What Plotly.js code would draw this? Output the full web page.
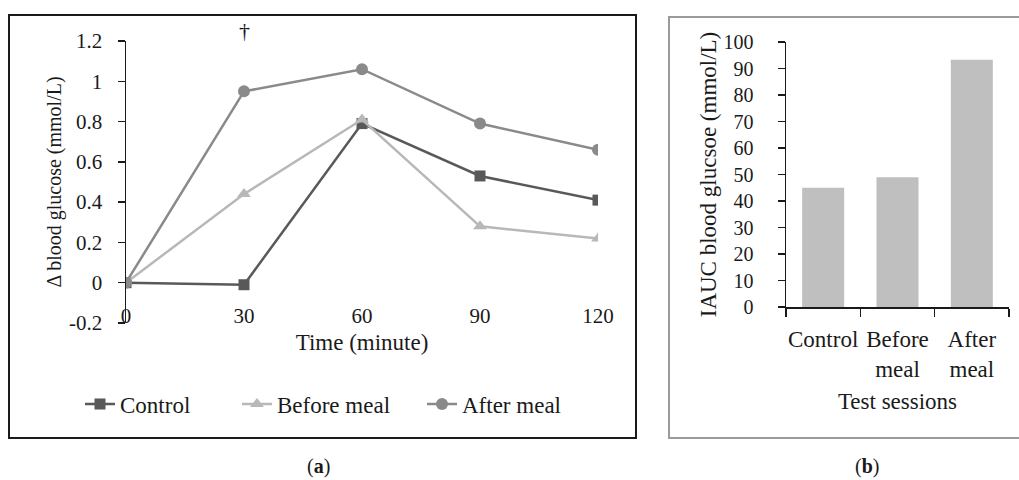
<!DOCTYPE html>
<html>
<head>
<meta charset="utf-8">
<script src="https://cdn.plot.ly/plotly-3.0.1.min.js"></script>
<style>html,body{margin:0;padding:0;background:#fff;}#chart{width:1019px;height:480px;}</style>
</head>
<body>
<div id="chart"></div>
<script>
// ---- data (panel a) ----
const timePoints = [0, 30, 60, 90, 120];
const controlDelta = [0, -0.01, 0.79, 0.53, 0.41];
const beforeMealDelta = [0, 0.44, 0.81, 0.28, 0.22];
const afterMealDelta = [0, 0.95, 1.06, 0.79, 0.66];
const yTickVals = [-0.2, 0, 0.2, 0.4, 0.6, 0.8, 1, 1.2];
const yTickText = ['-0.2', '0', '0.2', '0.4', '0.6', '0.8', '1', '1.2'];
const xTickVals = [0, 30, 60, 90, 120];
// ---- data (panel b) ----
const sessions = ['Control', 'Before<br>meal', 'After<br>meal'];
const iaucValues = [45, 49, 93.3];

const FONT = 'Liberation Serif, Times New Roman, serif';
const INK = '#1a1a1a';
const TICK = 21, TITLE = 23;

const traces = [
  {x: timePoints, y: controlDelta, name: 'Control', type: 'scatter', mode: 'lines+markers',
   line: {color: '#595959', width: 2.5}, marker: {symbol: 'square', size: 11, color: '#595959'},
   legendwidth: 112, xaxis: 'x', yaxis: 'y'},
  {x: timePoints, y: beforeMealDelta, name: 'Before meal', type: 'scatter', mode: 'lines+markers',
   line: {color: '#b8b8b8', width: 2.5}, marker: {symbol: 'triangle-up', size: 12, color: '#b8b8b8'},
   legendwidth: 140, xaxis: 'x', yaxis: 'y'},
  {x: timePoints, y: afterMealDelta, name: 'After meal', type: 'scatter', mode: 'lines+markers',
   line: {color: '#8a8a8a', width: 2.5}, marker: {symbol: 'circle', size: 12, color: '#8a8a8a'},
   legendwidth: 110, xaxis: 'x', yaxis: 'y'},
  {x: sessions, y: iaucValues, type: 'bar', showlegend: false,
   marker: {color: '#bfbfbf'}, xaxis: 'x3', yaxis: 'y3'}
];

const W = 1019, H = 480;
const px = v => v / W, py = v => (H - v) / H;

const layout = {
  width: W, height: H,
  margin: {l: 0, r: 0, t: 0, b: 0},
  paper_bgcolor: '#fff', plot_bgcolor: 'rgba(0,0,0,0)',
  font: {family: FONT, color: INK, size: TICK},
  showlegend: true,
  bargap: 0.435,
  legend: {orientation: 'h', x: px(80), xanchor: 'left', y: py(404), yanchor: 'middle',
           font: {family: FONT, size: TITLE, color: INK}, bgcolor: 'rgba(0,0,0,0)'},
  xaxis: {domain: [px(126), px(598)], range: [0, 120], anchor: 'free', position: py(301),
          tickvals: xTickVals, ticks: '', showline: false, showgrid: false, zeroline: false,
          tickfont: {family: FONT, size: TICK, color: INK},
          title: {text: 'Time (minute)', font: {family: FONT, size: TITLE, color: INK}, standoff: 6}},
  xaxis2: {domain: [px(126), px(598)], range: [0, 120], overlaying: 'x', anchor: 'free', position: py(283),
           tickvals: xTickVals, ticks: 'outside', ticklen: 7, tickwidth: 1.5, tickcolor: INK,
           showticklabels: false, showline: true, linecolor: INK, linewidth: 1.5,
           showgrid: false, zeroline: false},
  yaxis: {domain: [py(323), py(41)], range: [-0.2, 1.2], anchor: 'x',
          tickvals: yTickVals, ticktext: yTickText, ticks: 'outside', ticklen: 7, tickwidth: 1.5, tickcolor: INK,
          ticklabelstandoff: 11, showline: true, linecolor: INK, linewidth: 1.5,
          showgrid: false, zeroline: false, tickfont: {family: FONT, size: TICK, color: INK},
          title: {text: 'Δ blood glucose (mmol/L)', font: {family: FONT, size: 20, color: INK}, standoff: 2}},
  xaxis3: {domain: [px(786), px(1009)], anchor: 'y3', type: 'category', tickangle: 0,
           ticks: 'outside', tickson: 'boundaries', ticklen: 8, tickwidth: 1.5, tickcolor: INK,
           ticklabelstandoff: 11, showline: true, linecolor: INK, linewidth: 1.5, showgrid: false,
           tickfont: {family: FONT, size: TITLE, color: INK},
           title: {text: 'Test sessions', font: {family: FONT, size: TITLE, color: INK}, standoff: 12}},
  yaxis3: {domain: [py(307), py(42)], range: [0, 100], anchor: 'x3', dtick: 10,
           ticks: 'outside', ticklen: 7, tickwidth: 1.5, tickcolor: INK, ticklabelstandoff: 20,
           showline: true, linecolor: INK, linewidth: 1.5, showgrid: false, zeroline: false,
           tickfont: {family: FONT, size: 20, color: INK},
           title: {text: 'IAUC blood glucsoe (mmol/L)', font: {family: FONT, size: TITLE, color: INK}, standoff: 0}},
  shapes: [
    {type: 'rect', xref: 'paper', yref: 'paper', x0: px(9), x1: px(636), y0: py(438), y1: py(15),
     line: {color: '#1a1a1a', width: 2}, fillcolor: 'rgba(0,0,0,0)', layer: 'below'},
    {type: 'rect', xref: 'paper', yref: 'paper', x0: px(669), x1: px(1030), y0: py(438), y1: py(17),
     line: {color: '#9a9a9a', width: 2}, fillcolor: 'rgba(0,0,0,0)', layer: 'below'}
  ],
  annotations: [
    {text: '†', xref: 'x', yref: 'paper', x: 30, y: py(31), xanchor: 'center', yanchor: 'middle', showarrow: false,
     font: {family: FONT, size: 22, color: INK}},
    {text: '(<b>a</b>)', xref: 'paper', yref: 'paper', x: px(318), y: py(466), xanchor: 'center', yanchor: 'middle',
     showarrow: false, borderpad: 0, font: {family: FONT, size: 20, color: INK}},
    {text: '(<b>b</b>)', xref: 'paper', yref: 'paper', x: px(867), y: py(466), xanchor: 'center', yanchor: 'middle',
     showarrow: false, borderpad: 0, font: {family: FONT, size: 20, color: INK}}
  ]
};

Plotly.newPlot('chart', traces, layout, {displayModeBar: false, staticPlot: true});
</script>
</body>
</html>
